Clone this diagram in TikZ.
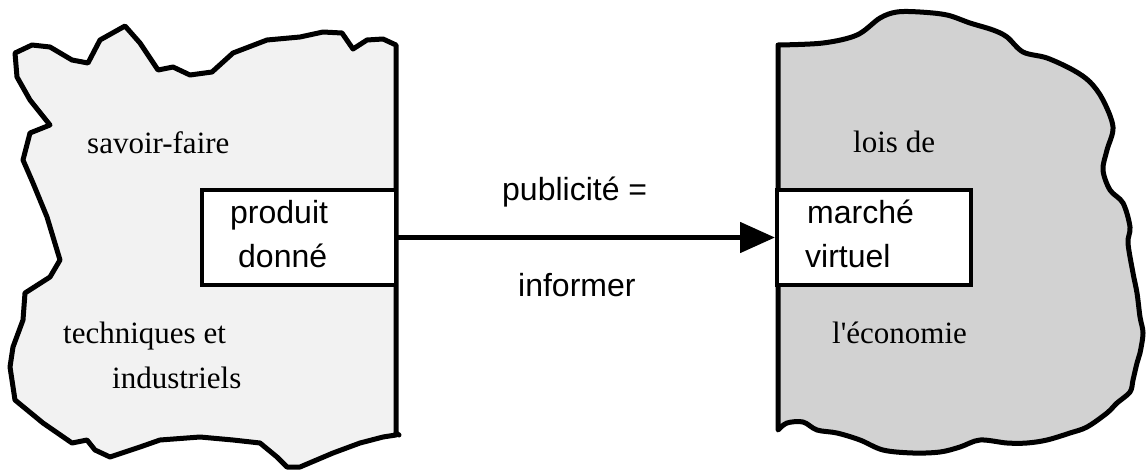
\documentclass[tikz,border=0pt]{standalone}
\usepackage{fontspec}
\setmainfont{Liberation Serif}[Ligatures=TeXOff]
\setsansfont{Liberation Sans}
\usetikzlibrary{arrows.meta}
\begin{document}
\begin{tikzpicture}[x=1pt,y=-1pt,
  outline/.style={line width=5pt,line join=round,line cap=round},
  boxnode/.style={draw,line width=4pt,fill=white,inner sep=0pt,minimum width=194pt,minimum height=95pt},
  serif/.style={inner sep=0pt,anchor=base west,font=\fontsize{31}{36}\selectfont\rmfamily},
  sans/.style={inner sep=0pt,anchor=base west,font=\fontsize{32}{38}\selectfont\sffamily},
  flow/.style={line width=5pt,-{Triangle[length=35pt,width=30pt]}}]
\useasboundingbox (0,0) rectangle (1146,472);
% left cloud
\draw[outline,fill=gray!10]
 (15,53) -- (32,45) -- (50,47) -- (72,60) -- (88,63) -- (100,40) -- (125,26) -- (140,43)
 -- (158,70) -- (173,67) -- (190,75) -- (212,72) -- (233,53) -- (267,40) -- (300,37)
 -- (323,32) -- (342,33) -- (353,49) -- (367,40) -- (383,39) -- (396,45) -- (396,435)
 -- (383,437) -- (360,443) -- (333,453) -- (300,467) -- (287,467) -- (277,457) -- (260,443)
 -- (233,440) -- (200,437) -- (160,440) -- (140,447) -- (110,457) -- (95,450) -- (87,440)
 -- (72,443) -- (43,423) -- (15,400) -- (10,367) -- (13,347) -- (23,320) -- (25,293)
 -- (50,277) -- (60,260) -- (47,217) -- (33,183) -- (23,160) -- (30,133) -- (50,125)
 -- (30,100) -- (17,77) -- cycle;
\draw[outline] (396,433) -- (399,435);
% right cloud
\draw[outline,fill=gray!35]
 (778,45) -- plot[smooth,tension=0.55] coordinates {
 (778,45) (823,43) (857,35) (880,18) (897,12) (920,12) (947,15) (970,23) (993,30)
 (1007,37) (1023,52) (1047,58) (1073,70) (1090,82) (1103,100) (1113,127) (1107,150)
 (1103,170) (1110,190) (1123,203) (1130,227) (1128,243) (1133,273) (1137,293) (1140,317)
 (1143,333) (1140,353) (1137,363) (1133,380) (1130,392) (1117,403) (1107,413) (1087,427)
 (1070,433) (1047,440) (1027,443) (1007,443) (980,440) (960,447) (940,452) (913,453)
 (883,450) (860,440) (837,433) (817,430) (803,422) (787,423) (778,430)} -- cycle;
% boxes
\node[boxnode] (prod) at (299,237.5) {};
\node[boxnode] (marche) at (874,237.5) {};
\draw[flow] (prod.east) -- (marche.west);
% texts
\node[sans] (t1) at (230,223) {produit};
\node[sans] (t2) at (238,267) {donné};
\node[sans] (t3) at (807,223) {marché};
\node[sans] (t4) at (805,267) {virtuel};
\node[sans] (t5) at (502,200) {publicité =};
\node[sans] (t6) at (518,296) {informer};
\node[serif] (t7) at (87,153) {savoir-faire};
\node[serif] (t8) at (63,343) {techniques et};
\node[serif] (t9) at (112,388) {industriels};
\node[serif] (t10) at (853,152) {lois de};
\node[serif] (t11) at (832,343) {l'économie};
\end{tikzpicture}
\end{document}
